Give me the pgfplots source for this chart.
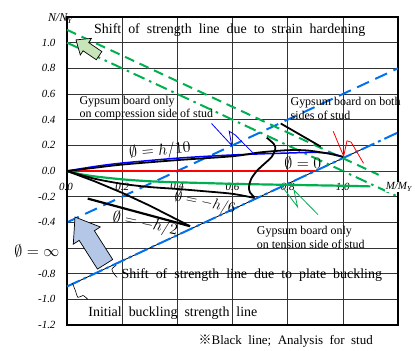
\RequirePackage{fix-cm}
\documentclass[border=0pt]{standalone}
\usepackage{fontspec}
\setmainfont{Liberation Serif}
\newfontfamily\cjk{Noto Sans CJK JP}
\usepackage{pgfplots}
\pgfplotsset{compat=1.18}
\definecolor{myblue}{RGB}{0,112,240}
\definecolor{mygreen}{RGB}{0,176,80}
\definecolor{arrgreen}{RGB}{200,228,185}
\definecolor{arrblue}{RGB}{180,199,231}
\begin{document}
\begin{tikzpicture}
\begin{axis}[name=ax,
  scale only axis, width=331bp, height=308bp,
  xmin=0, xmax=1.2, ymin=-1.2, ymax=1.2,
  xtick={0.2,0.4,0.6,0.8,1.0}, xticklabels={},
  ytick={-1.2,-1,-0.8,-0.6,-0.4,-0.2,0,0.2,0.4,0.6,0.8,1},
  yticklabels={-1.2,-1.0,-0.8,,-0.4,-0.2,0.0,0.2,0.4,0.6,0.8,1.0},
  major tick length=0pt,
  grid=major,
  major grid style={black!80, line width=0.6pt},
  axis line style={line width=1.5pt},
  yticklabel style={font=\fontsize{11}{13}\selectfont\itshape, xshift=-8bp},
  clip=false,
]
% x tick labels (inside the plot, under the zero line)
\node[font=\fontsize{11}{13}\selectfont\itshape] at (axis cs:-0.004,-0.125) {0.0};
\node[font=\fontsize{11}{13}\selectfont\itshape] at (axis cs:0.2,-0.125) {0.2};
\node[font=\fontsize{11}{13}\selectfont\itshape] at (axis cs:0.4,-0.12) {0.4};
\node[font=\fontsize{11}{13}\selectfont\itshape] at (axis cs:0.6,-0.125) {0.6};
\node[font=\fontsize{11}{13}\selectfont\itshape] at (axis cs:0.8,-0.125) {0.8};
\node[font=\fontsize{11}{13}\selectfont\itshape] at (axis cs:1.0,-0.125) {1.0};

% strength lines
\addplot[myblue, line width=2pt, dash pattern=on 13bp off 7bp] coordinates {(0,-0.4) (1.2,0.8)};
\addplot[black, line width=0.8pt] coordinates {(0,-0.9) (1.1,0.2)};
\addplot[myblue, line width=2pt, dash pattern=on 14bp off 4bp on 3bp off 4bp] coordinates {(0,-0.9) (1.2,0.3)};
\addplot[mygreen, line width=2pt, dash pattern=on 10bp off 6bp] coordinates {(0,1.1) (1.13,-0.03)};
\addplot[mygreen, line width=2pt, dash pattern=on 12bp off 5bp on 2.5bp off 5bp] coordinates {(0,1.0) (1.2,-0.2)};

% phi = infinity
\addplot[black, line width=2.5pt] coordinates {(0,0) (0,-0.75)};

% red (phi = 0 reference)
\addplot[red, line width=2.2pt] coordinates {(0,0) (0.9,0)};
\addplot[red, line width=1pt] coordinates {(0.9,0) (1.13,0)};

% green curve
\addplot[mygreen, line width=2.2pt, smooth] coordinates {(0,0) (0.05,-0.025) (0.1,-0.042) (0.2,-0.065) (0.3,-0.08) (0.4,-0.088) (0.5,-0.094) (0.6,-0.1) (0.8,-0.108) (1.0,-0.115) (1.1,-0.12)};

% blue curve h/10
\addplot[blue, line width=1.5pt, smooth] coordinates {(0,0) (0.1,0.035) (0.2,0.062) (0.4,0.1) (0.6,0.125) (0.8,0.14) (0.9,0.145) (0.96,0.135) (1.0,0.11)};
% black curve h/10
\addplot[black, line width=1.8pt, smooth] coordinates {(0,0) (0.1,0.025) (0.2,0.05) (0.4,0.085) (0.6,0.115) (0.7,0.145) (0.8,0.162) (0.87,0.16) (0.95,0.135) (1.0,0.11)};

% black curve phi = 0
\addplot[black, line width=1.8pt, smooth] coordinates {(0.724,0.26) (0.75,0.21) (0.755,0.17) (0.742,0.11) (0.715,0.055) (0.69,0.005) (0.668,-0.06) (0.66,-0.12) (0.663,-0.165) (0.68,-0.205)};
\addplot[black, line width=1.8pt] coordinates {(0.775,0.37) (0.92,0.19)};

% black curve -h/6
\addplot[black, line width=1.8pt, smooth] coordinates {(0,0) (0.1,-0.06) (0.2,-0.1) (0.3,-0.125) (0.4,-0.14) (0.5,-0.158) (0.6,-0.178) (0.68,-0.21)};
% black line from origin
\addplot[black, line width=1.8pt] coordinates {(0,0) (0.1,-0.08) (0.2,-0.17) (0.3,-0.27) (0.446,-0.43)};
% black -h/2
\addplot[black, line width=2.2pt] coordinates {(0.075,-0.215) (0.446,-0.43)};

% leader lines
\addplot[blue, line width=0.8pt] coordinates {(0.524,0.37) (0.597,0.2) (0.588,0.31) (0.61,0.28) (0.675,0.14)};
\addplot[red, line width=0.8pt] coordinates {(0.965,0.31) (1.003,0.115) (1.015,0.235) (1.03,0.225) (1.075,0.06)};
\addplot[mygreen, line width=0.8pt] coordinates {(0.778,-0.115) (0.836,-0.28) (0.823,-0.15) (0.91,-0.34)};
\addplot[black, line width=0.6pt, smooth] coordinates {(0.178,-0.735) (0.163,-0.765) (0.17,-0.8) (0.182,-0.83)};
\addplot[black, line width=0.6pt, smooth] coordinates {(0.02,-0.875) (0.03,-0.93) (0.04,-0.985) (0.058,-0.97) (0.075,-1.0)};

% block arrows
\draw[black, line width=0.7pt, fill=arrgreen] (axis cs:0.0326,1.0218) -- (axis cs:0.0888,1.0335) -- (axis cs:0.0786,1.0008) -- (axis cs:0.1264,0.9306) -- (axis cs:0.1062,0.8667) -- (axis cs:0.0583,0.9368) -- (axis cs:0.0482,0.9040) -- cycle;
\draw[black, line width=0.7pt, fill=arrblue] (axis cs:0.029,-0.359) -- (axis cs:0.1207,-0.436) -- (axis cs:0.0993,-0.4657) -- (axis cs:0.1656,-0.6895) -- (axis cs:0.1105,-0.7644) -- (axis cs:0.0442,-0.5406) -- (axis cs:0.0228,-0.5702) -- cycle;

% texts
\node[font=\fontsize{14}{16}\selectfont] at (axis cs:0.59,1.10) {Shift~ of~ strength~ line~ due~ to~ strain~ hardening};
\node[font=\fontsize{14}{16}\selectfont] at (axis cs:0.67,-0.81) {Shift~ of~ strength~ line~ due~ to~ plate~ buckling};
\node[font=\fontsize{14}{16}\selectfont] at (axis cs:0.384,-1.108) {Initial~ buckling~ strength~ line};
\node[font=\fontsize{12}{14}\selectfont, align=left, anchor=west, inner sep=0pt] at (axis cs:0.045,0.49) {Gypsum board only\\on compression side of stud};
\node[font=\fontsize{12}{14}\selectfont, align=left, anchor=west, inner sep=0pt] at (axis cs:0.81,0.49) {Gypsum board on both\\sides of stud};
\node[font=\fontsize{12}{14}\selectfont, align=left, anchor=west, inner sep=0pt] at (axis cs:0.688,-0.52) {Gypsum board only\\on tension side of stud};
\node[font=\fontsize{16}{18}\selectfont, rotate=5] at (axis cs:0.337,0.156) {$\emptyset = h/10$};
\node[font=\fontsize{16}{18}\selectfont] at (axis cs:0.855,0.062) {$\emptyset = 0$};
\node[font=\fontsize{15}{17}\selectfont, rotate=-12, inner sep=0pt] at (axis cs:0.5,-0.25) {$\emptyset = -h/6$};
\node[font=\fontsize{16}{18}\selectfont, rotate=-12] at (axis cs:0.283,-0.413) {$\emptyset = -h/2$};
\node[font=\fontsize{16}{18}\selectfont] at (axis cs:-0.109,-0.624) {$\emptyset = \infty$};
\node[font=\fontsize{12}{14}\selectfont\itshape] at (axis cs:-0.025,1.19) {N/N\textsubscript{Y}};
\node[font=\fontsize{11}{13}\selectfont\itshape, fill=white, inner sep=1pt] at (axis cs:1.203,-0.125) {M/M\textsubscript{Y}};
\node[font=\fontsize{13}{15}\selectfont] at (axis cs:0.793,-1.326) {{\cjk ※}Black~ line;~ Analysis~ for~ stud};
\end{axis}
\pgfresetboundingbox
\path ([shift={(-67bp,-26bp)}]ax.south west) rectangle ([shift={(17bp,17bp)}]ax.north east);
\end{tikzpicture}
\end{document}
